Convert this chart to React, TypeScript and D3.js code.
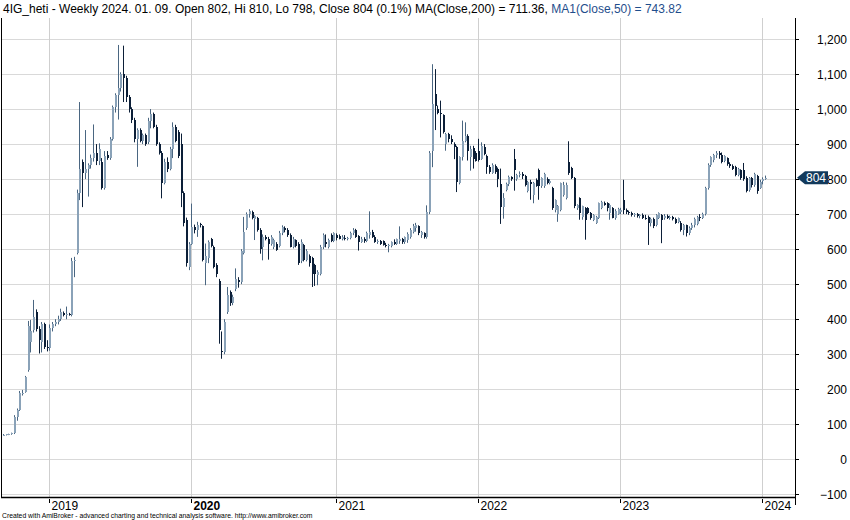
import React from "react";
import * as d3 from "d3";

// Weekly OHLC bars [open, high, low, close], grouped by calendar year
const bars2018: number[][] = [
  [70,72,68,70],[70,72,68,71],[71,73,69,72],[72,76,70,74],[74,126,72,122],[122,145,110,140],
  [140,195,138,188],[188,198,182,190],[192,238,190,234],[255,395,250,380],[335,398,305,365],
  [368,455,362,405],[420,428,365,372],[372,380,302,340],[336,392,305,386],[386,390,315,322],
  [322,340,308,318],
];
const bars2019: number[][] = [
  [318,385,310,375],[375,392,365,385],[385,400,380,392],[392,410,385,400],[400,430,395,420],
  [418,422,408,412],[412,436,400,415],[415,418,410,412],[412,575,408,565],[565,578,520,570],
  [590,770,585,760],[760,1020,740,830],[850,856,720,816],[816,940,800,830],[828,845,750,840],
  [840,870,830,860],[860,956,850,875],[875,900,840,852],[852,902,840,885],[850,860,770,775],
  [775,880,770,865],[870,880,855,860],[860,920,855,915],[915,1010,910,1005],[1005,1045,990,1040],
  [1040,1183,970,1060],[1060,1105,1050,1100],[1100,1181,1020,1090],[1090,1095,1020,1035],
  [1035,1040,990,1000],[1000,1005,960,970],[970,975,905,915],[915,945,835,940],[940,945,905,910],
  [910,930,900,925],[925,930,895,900],[905,975,900,965],[965,1000,945,985],[985,990,945,950],
  [950,955,895,900],[900,905,870,875],[875,880,745,790],[790,858,785,850],[850,862,820,830],
  [830,892,825,885],[885,962,860,950],[950,955,905,910],[935,940,860,865],[900,930,720,760],
  [760,765,665,675],[683,690,550,560],[548,620,540,616],
];
const bars2020: number[][] = [
  [616,730,612,664],[664,670,645,654],[654,678,635,670],[672,675,662,668],[665,668,565,570],
  [560,616,497,580],[575,625,560,620],[628,632,605,610],[605,610,545,550],[555,560,520,528],
  [510,515,330,370],[310,365,287,305],[305,400,300,392],[421,492,415,468],[478,482,438,445],
  [445,470,440,462],[487,545,480,516],[512,520,490,505],[505,600,500,595],[590,692,585,650],
  [660,705,655,700],[700,714,690,708],[707,710,685,690],[686,697,626,694],[690,692,650,655],
  [655,660,587,600],[605,642,568,635],[635,640,625,630],[630,635,570,615],[615,640,610,635],
  [607,630,600,626],[616,620,595,598],[610,652,605,645],[645,668,640,662],[660,665,648,654],
  [655,660,635,640],[640,645,605,607],[607,635,602,630],[625,628,605,610],[616,620,555,560],
  [565,628,560,620],[612,615,565,570],[570,600,565,595],[580,585,550,560],[575,578,492,530],
  [554,558,495,528],[525,540,497,535],[530,612,525,605],[605,645,600,640],[620,642,605,615],
  [607,630,602,626],[640,645,620,622],[622,648,620,645],
];
const bars2021: number[][] = [
  [640,645,625,632],[638,642,628,630],[630,640,625,636],[632,640,625,630],[630,635,625,632],
  [632,650,628,645],[645,660,640,655],[655,658,632,636],[638,640,596,620],[620,635,618,630],
  [630,634,618,622],[624,650,620,645],[640,708,630,648],[650,655,632,635],[636,640,618,620],
  [620,628,615,622],[622,626,612,616],[622,625,610,613],[613,618,605,608],[608,615,591,612],
  [610,622,605,620],[620,628,612,615],[615,630,612,628],[622,665,615,628],[628,632,615,620],
  [620,636,615,634],[625,648,618,644],[635,660,630,655],[650,672,645,665],[660,675,650,668],
  [665,668,640,645],[640,652,632,648],[645,648,630,635],[635,725,630,705],[705,880,700,875],
  [880,1128,834,1015],[1043,1114,940,1010],[1000,1010,985,990],[990,1024,919,985],
  [982,985,930,934],[900,932,881,928],[928,932,905,915],[915,925,900,905],[900,905,857,891],
  [891,895,763,791],[790,865,785,862],[862,967,853,910],[910,962,905,924],[924,928,853,881],
  [862,895,824,886],[890,895,830,858],[875,880,850,853],
];
const bars2022: number[][] = [
  [880,915,850,855],[858,905,855,895],[893,900,868,872],[866,870,815,834],[834,840,815,820],
  [818,845,815,840],[838,842,815,820],[830,833,777,800],[786,830,672,720],[720,760,687,745],
  [770,790,765,785],[785,810,780,805],[805,808,795,800],[858,886,767,825],[800,815,795,812],
  [812,822,805,815],[815,820,800,808],[808,812,779,784],[765,795,762,793],[793,798,741,785],
  [755,792,731,788],[798,802,778,780],[826,830,741,779],[779,805,775,803],[779,818,775,815],
  [800,805,785,790],[790,800,785,795],[774,778,712,717],[712,742,705,741],[700,726,678,722],
  [712,790,708,789],[755,792,750,784],[746,790,742,784],[850,908,812,817],[831,835,800,803],
  [803,806,717,722],[717,728,712,726],[745,748,684,703],[693,724,684,722],[717,720,627,684],
  [717,720,700,703],[703,706,684,690],[684,700,680,698],[675,695,672,693],[689,733,686,731],
  [717,738,714,736],[731,736,724,726],[731,734,708,717],[703,730,684,727],[717,720,688,689],
  [690,714,684,710],[700,718,698,715],
];
const bars2023: number[][] = [
  [705,718,700,712],[741,798,700,712],[712,716,700,705],[705,710,698,702],[702,707,693,698],
  [698,703,692,700],[700,703,690,694],[694,700,688,697],[697,702,686,690],[690,698,684,688],
  [693,696,612,676],[676,690,665,686],[686,690,660,665],[668,700,665,698],[690,705,686,703],
  [698,700,617,684],[688,700,684,696],[696,699,686,690],[690,696,684,692],[692,695,682,686],
  [686,690,672,675],[678,690,674,688],[675,680,650,656],[656,672,640,668],[668,670,636,645],
  [645,665,640,660],[660,675,655,670],[668,690,662,686],[672,695,668,692],[692,700,680,690],
  [690,704,686,700],[700,778,696,775],[775,845,770,840],[840,865,835,862],[855,872,848,868],
  [868,880,860,874],[874,880,858,870],[870,876,845,850],[852,868,848,865],[860,862,838,842],
  [842,848,832,838],[838,842,826,830],[835,838,808,812],[812,832,808,828],[825,828,798,802],
  [825,846,795,800],[803,808,762,766],[768,806,764,802],[802,806,776,782],[782,818,778,814],
  [810,812,758,765],[775,798,772,793],
];
const bars2024: number[][] = [
  [795,805,785,800],[802,810,798,804],
];

const yearLabels = ["2019", "2020", "2021", "2022", "2023", "2024"];
const yTickValues = [-100, 0, 100, 200, 300, 400, 500, 600, 700, 800, 900, 1000, 1100, 1200];

const titleMain =
  "4IG_heti - Weekly 2024. 01. 09. Open 802, Hi 810, Lo 798, Close 804 (0.1%) MA(Close,200) = 711.36, ";
const titleMA = "MA1(Close,50) = 743.82";
const footer =
  "Created with AmiBroker - advanced charting and technical analysis software. http://www.amibroker.com";

const yearGroups = [bars2018, bars2019, bars2020, bars2021, bars2022, bars2023, bars2024];

export default function App() {
  const bars = yearGroups.flat();
  const n = bars.length;
  const yearStarts: number[] = [];
  let acc = 0;
  yearGroups.forEach((g, gi) => {
    if (gi > 0) yearStarts.push(acc);
    acc += g.length;
  });

  const font = "'Liberation Sans', Arial, sans-serif";
  const left = 1;
  const right = 795;
  const top = 18;
  const bottom = 497;

  const x = d3.scaleLinear().domain([0, n - 1]).range([3, 765]);
  const y = d3.scaleLinear().domain([-100, 1200]).range([494.3, 39]);
  const fmt = d3.format(",");

  const upFill = "#8aa2b8";
  const upWick = "#4a6681";
  const downFill = "#0c1f38";
  const downWick = "#0c1f38";

  const last = bars[n - 1][3];
  const ly = y(last);

  return (
    <svg
      width={850}
      height={520}
      style={{ position: "absolute", left: 0, top: 0, background: "#fff" }}
      fontFamily={font}
    >
      <rect x={0} y={0} width={850} height={520} fill="#ffffff" />
      {yTickValues.map((v) => (
        <line key={"hg" + v} x1={left} x2={right} y1={Math.round(y(v)) + 0.5} y2={Math.round(y(v)) + 0.5}
          stroke="#d9d9d9" strokeWidth={1} />
      ))}
      {yearStarts.map((idx, k) => (
        <line key={"vg" + k} x1={Math.round(x(idx)) + 0.5} x2={Math.round(x(idx)) + 0.5} y1={top} y2={bottom}
          stroke="#cfcfcf" strokeWidth={1} />
      ))}
      {bars.map((b, i) => {
        const [o, h, l, c] = b;
        const cx = Math.round(x(i));
        const up = c >= o;
        const yTop = Math.round(y(Math.max(o, c)));
        const yBot = Math.round(y(Math.min(o, c)));
        return (
          <g key={"c" + i}>
            <line x1={cx + 0.5} x2={cx + 0.5} y1={y(h)} y2={y(l)} stroke={up ? upWick : downWick} strokeWidth={1} />
            <rect x={cx} y={yTop} width={2} height={Math.max(1, yBot - yTop)}
              fill={up ? upFill : downFill} />
          </g>
        );
      })}
      <line x1={left + 0.5} x2={left + 0.5} y1={top} y2={bottom} stroke="#000" strokeWidth={1} />
      <line x1={right + 0.5} x2={right + 0.5} y1={top} y2={505} stroke="#000" strokeWidth={1} />
      <line x1={left} x2={right} y1={bottom + 0.5} y2={bottom + 0.5} stroke="#000" strokeWidth={1.5} />
      {yTickValues.map((v) => (
        <g key={"yt" + v}>
          <line x1={right} x2={right + 4} y1={Math.round(y(v)) + 0.5} y2={Math.round(y(v)) + 0.5} stroke="#000" />
          <text x={847} y={y(v) + 4.5} textAnchor="end" fontSize={12} fill="#000">{fmt(v)}</text>
        </g>
      ))}
      <path
        d={`M${right + 2},${ly} L${right + 10},${ly - 6.5} L${828},${ly - 6.5} L${828},${ly + 6.5} L${right + 10},${ly + 6.5} Z`}
        fill="#123a5c"
      />
      <text x={806} y={ly + 4.5} fontSize={12} fill="#fff">{last}</text>
      {yearStarts.map((idx, k) => {
        const tx = Math.round(x(idx)) + 0.5;
        return (
          <g key={"yl" + k}>
            <line x1={tx} x2={tx} y1={499} y2={503} stroke="#000" strokeWidth={1} />
            <text x={tx + 2} y={510} fontSize={12} fill="#000" fontWeight={yearLabels[k] === "2020" ? "bold" : "normal"}>
              {yearLabels[k]}
            </text>
          </g>
        );
      })}
      <text x={3} y={13} fontSize={12} fill="#000">
        {titleMain}
        <tspan fill="#1f4e8c">{titleMA}</tspan>
      </text>
      <text x={2} y={518} fontSize={6.8} fill="#000">{footer}</text>
    </svg>
  );
}
